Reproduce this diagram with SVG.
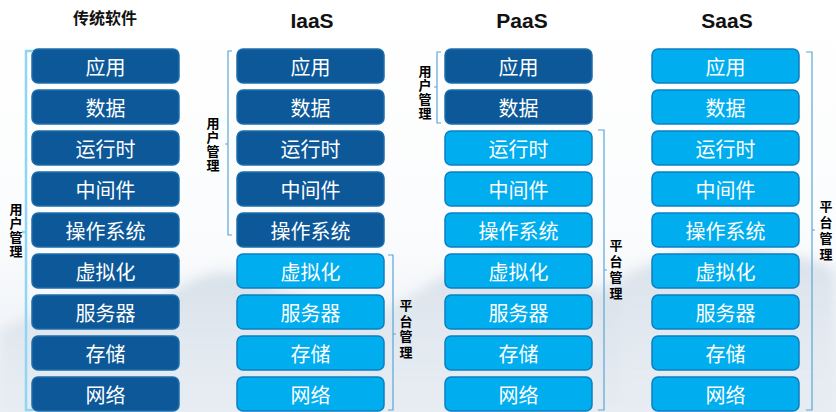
<svg xmlns="http://www.w3.org/2000/svg" width="836" height="412" viewBox="0 0 836 412">
  <defs>
    <linearGradient id="sky" x1="0" y1="0" x2="0" y2="1">
      <stop offset="0" stop-color="#ffffff"/>
      <stop offset="0.55" stop-color="#fbfcfd"/>
      <stop offset="1" stop-color="#e9eef4"/>
    </linearGradient>
    <linearGradient id="hill" x1="0" y1="0" x2="0" y2="1">
      <stop offset="0" stop-color="#c9d5e1" stop-opacity="0.9"/>
      <stop offset="1" stop-color="#e4eaf1" stop-opacity="0.6"/>
    </linearGradient>
    <filter id="soft" x="-10%" y="-20%" width="120%" height="140%">
      <feGaussianBlur stdDeviation="6"/>
    </filter>
    <style>
      .hdr { font-family: "Liberation Sans", "Noto Sans CJK SC", sans-serif; font-weight: bold; font-size: 21px; fill: #111; text-anchor: middle; }
      .hdr-cn { font-family: "Noto Sans CJK SC", sans-serif; font-weight: bold; font-size: 16px; fill: #111; text-anchor: middle; }
      .dark rect { fill: #0c5898; stroke: #1c6eac; stroke-width: 1.5; }
      .light rect { fill: #00aeef; stroke: #0b7fc2; stroke-width: 1.5; }
      .node text { font-family: "Noto Sans CJK SC", sans-serif; font-size: 20px; fill: #ffffff; text-anchor: middle; dominant-baseline: central; }
      .lbl { font-family: "Noto Sans CJK SC", sans-serif; font-weight: bold; font-size: 13px; fill: #000; text-anchor: middle; writing-mode: vertical-rl; text-orientation: upright; }
      .br { fill: none; stroke: #5aa6d6; stroke-width: 1.2; }
      .br-wide { fill: none; stroke: #8fd6f2; stroke-width: 2.5; }
    </style>
  </defs>

  <!-- background with faint misty hills -->
  <rect x="0" y="0" width="836" height="412" fill="url(#sky)"/>
  <g filter="url(#soft)" opacity="0.75">
    <path d="M0,330 C60,300 110,290 160,300 C200,270 240,262 280,290 C320,300 350,320 380,330 L380,412 L0,412 Z" fill="url(#hill)"/>
    <path d="M360,320 C420,300 460,250 520,255 C560,258 590,290 620,300 L620,412 L360,412 Z" fill="url(#hill)"/>
    <path d="M600,290 C650,260 700,240 760,250 C800,256 820,262 836,270 L836,412 L600,412 Z" fill="url(#hill)"/>
  </g>

  <!-- column headers -->
  <text class="hdr-cn" x="105" y="24">传统软件</text>
  <text class="hdr" x="312" y="28">IaaS</text>
  <text class="hdr" x="522" y="28">PaaS</text>
  <text class="hdr" x="727" y="28">SaaS</text>

  <!-- column 1: traditional software -->
  <g id="c1-app" class="node dark"><rect x="32" y="49" width="147" height="34" rx="6"/><text x="105.5" y="66">应用</text></g>
  <g id="c1-data" class="node dark"><rect x="32" y="90" width="147" height="34" rx="6"/><text x="105.5" y="107">数据</text></g>
  <g id="c1-runtime" class="node dark"><rect x="32" y="131" width="147" height="34" rx="6"/><text x="105.5" y="148">运行时</text></g>
  <g id="c1-middleware" class="node dark"><rect x="32" y="172" width="147" height="34" rx="6"/><text x="105.5" y="189">中间件</text></g>
  <g id="c1-os" class="node dark"><rect x="32" y="213" width="147" height="34" rx="6"/><text x="105.5" y="230">操作系统</text></g>
  <g id="c1-virt" class="node dark"><rect x="32" y="254" width="147" height="34" rx="6"/><text x="105.5" y="271">虚拟化</text></g>
  <g id="c1-server" class="node dark"><rect x="32" y="295" width="147" height="34" rx="6"/><text x="105.5" y="312">服务器</text></g>
  <g id="c1-storage" class="node dark"><rect x="32" y="336" width="147" height="34" rx="6"/><text x="105.5" y="353">存储</text></g>
  <g id="c1-network" class="node dark"><rect x="32" y="377" width="147" height="34" rx="6"/><text x="105.5" y="394">网络</text></g>

  <!-- column 2: IaaS -->
  <g id="c2-app" class="node dark"><rect x="237" y="49" width="147" height="34" rx="6"/><text x="310.5" y="66">应用</text></g>
  <g id="c2-data" class="node dark"><rect x="237" y="90" width="147" height="34" rx="6"/><text x="310.5" y="107">数据</text></g>
  <g id="c2-runtime" class="node dark"><rect x="237" y="131" width="147" height="34" rx="6"/><text x="310.5" y="148">运行时</text></g>
  <g id="c2-middleware" class="node dark"><rect x="237" y="172" width="147" height="34" rx="6"/><text x="310.5" y="189">中间件</text></g>
  <g id="c2-os" class="node dark"><rect x="237" y="213" width="147" height="34" rx="6"/><text x="310.5" y="230">操作系统</text></g>
  <g id="c2-virt" class="node light"><rect x="237" y="254" width="147" height="34" rx="6"/><text x="310.5" y="271">虚拟化</text></g>
  <g id="c2-server" class="node light"><rect x="237" y="295" width="147" height="34" rx="6"/><text x="310.5" y="312">服务器</text></g>
  <g id="c2-storage" class="node light"><rect x="237" y="336" width="147" height="34" rx="6"/><text x="310.5" y="353">存储</text></g>
  <g id="c2-network" class="node light"><rect x="237" y="377" width="147" height="34" rx="6"/><text x="310.5" y="394">网络</text></g>

  <!-- column 3: PaaS -->
  <g id="c3-app" class="node dark"><rect x="445" y="49" width="147" height="34" rx="6"/><text x="518.5" y="66">应用</text></g>
  <g id="c3-data" class="node dark"><rect x="445" y="90" width="147" height="34" rx="6"/><text x="518.5" y="107">数据</text></g>
  <g id="c3-runtime" class="node light"><rect x="445" y="131" width="147" height="34" rx="6"/><text x="518.5" y="148">运行时</text></g>
  <g id="c3-middleware" class="node light"><rect x="445" y="172" width="147" height="34" rx="6"/><text x="518.5" y="189">中间件</text></g>
  <g id="c3-os" class="node light"><rect x="445" y="213" width="147" height="34" rx="6"/><text x="518.5" y="230">操作系统</text></g>
  <g id="c3-virt" class="node light"><rect x="445" y="254" width="147" height="34" rx="6"/><text x="518.5" y="271">虚拟化</text></g>
  <g id="c3-server" class="node light"><rect x="445" y="295" width="147" height="34" rx="6"/><text x="518.5" y="312">服务器</text></g>
  <g id="c3-storage" class="node light"><rect x="445" y="336" width="147" height="34" rx="6"/><text x="518.5" y="353">存储</text></g>
  <g id="c3-network" class="node light"><rect x="445" y="377" width="147" height="34" rx="6"/><text x="518.5" y="394">网络</text></g>

  <!-- column 4: SaaS -->
  <g id="c4-app" class="node light"><rect x="652" y="49" width="147" height="34" rx="6"/><text x="725.5" y="66">应用</text></g>
  <g id="c4-data" class="node light"><rect x="652" y="90" width="147" height="34" rx="6"/><text x="725.5" y="107">数据</text></g>
  <g id="c4-runtime" class="node light"><rect x="652" y="131" width="147" height="34" rx="6"/><text x="725.5" y="148">运行时</text></g>
  <g id="c4-middleware" class="node light"><rect x="652" y="172" width="147" height="34" rx="6"/><text x="725.5" y="189">中间件</text></g>
  <g id="c4-os" class="node light"><rect x="652" y="213" width="147" height="34" rx="6"/><text x="725.5" y="230">操作系统</text></g>
  <g id="c4-virt" class="node light"><rect x="652" y="254" width="147" height="34" rx="6"/><text x="725.5" y="271">虚拟化</text></g>
  <g id="c4-server" class="node light"><rect x="652" y="295" width="147" height="34" rx="6"/><text x="725.5" y="312">服务器</text></g>
  <g id="c4-storage" class="node light"><rect x="652" y="336" width="147" height="34" rx="6"/><text x="725.5" y="353">存储</text></g>
  <g id="c4-network" class="node light"><rect x="652" y="377" width="147" height="34" rx="6"/><text x="725.5" y="394">网络</text></g>

  <!-- management brackets -->
  <g id="brackets">
    <path class="br-wide" d="M33,51 H26 V410 H33 M26,232 H22"/>
    <path class="br" d="M232,51 H228 V235 H232 M228,144 H225"/>
    <path class="br" d="M388,255 H393 V410 H388 M393,334 H396"/>
    <path class="br" d="M441,52 H437 V123 H441 M437,87 H434"/>
    <path class="br" d="M598,130 H604 V410 H598 M604,270 H607"/>
    <path class="br" d="M806,52 H812 V410 H806 M812,230 H815"/>
  </g>

  <!-- bracket labels, set vertically -->
  <g id="label-c1-user"><text class="lbl" x="16" y="231" style="letter-spacing:1px">用户管理</text></g>
  <g id="label-c2-user"><text class="lbl" x="213" y="145" style="letter-spacing:1px">用户管理</text></g>
  <g id="label-c2-platform"><text class="lbl" x="406" y="330" style="letter-spacing:2.5px">平台管理</text></g>
  <g id="label-c3-user"><text class="lbl" x="425" y="93" style="letter-spacing:1px">用户管理</text></g>
  <g id="label-c3-platform"><text class="lbl" x="616" y="271" style="letter-spacing:3px">平台管理</text></g>
  <g id="label-c4-platform"><text class="lbl" x="826" y="232" style="letter-spacing:3px">平台管理</text></g>
</svg>
